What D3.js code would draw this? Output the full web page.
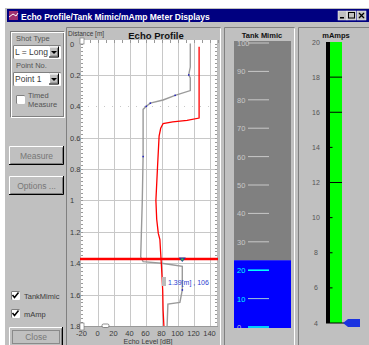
<!DOCTYPE html>
<html><head><meta charset="utf-8">
<script src="https://cdn.jsdelivr.net/npm/d3@7"></script>
<style>body{margin:0;background:#fff}svg{display:block}text{font-family:"Liberation Sans",Arial,sans-serif}</style>
</head><body><svg id="c" width="369" height="345"></svg>
<script>
// ---- data ----
const windowTitle = "Echo Profile/Tank Mimic/mAmp Meter Displays";
const xTicks = [-20,0,20,40,60,80,100,120,140];
const yTicks = [0,0.2,0.4,0.6,0.8,1,1.2,1.4,1.6,1.8];
const yTickLabels = ["0","0.2","0.4","0.6","0.8","1","1.2","1.4","1.6","1.8"];
// echo profile (distance m, level dB)
const echoDist = [0,0.15,0.2,0.22,0.30,0.33,0.36,0.38,0.40,0.42,0.72,1.0,1.36,1.39,1.40,1.41,1.42,1.57,1.65,1.66,1.80];
const echoDb   = [116,116,114,116,116,97,82,66,61,57,57,56,54,57,80,93,106,106,103,88,87];
// TVT curve
const tvtDist = [0.02,0.475,0.49,0.50,0.51,0.54,0.59,0.79,1.0,1.12,1.21,1.25,1.34,1.42,1.57,1.70,1.80];
const tvtDb   = [127,127,112,94,82,79,77,75,73,74,76,78,79,80,81.5,82,83];
const markerDist = 1.373, markerDb = 106;
const markerLabel = "1.39[m] , 106";
// tank mimic
const tankTicks = [0,10,20,30,40,50,60,70,80,90,100];
const tankLevel = 23.5;
// mA meter
const maTicks = [4,6,8,10,12,14,16,18,20];
const maMajorLines = [12,16,18];
const maValue = 4;

// ---- drawing ----
const svg = d3.select("#c");
const gray="#c0c0c0", dark="#808080", txt="#3a3a3a";
svg.append("rect").attr("x",5).attr("y",8).attr("width",364).attr("height",337).attr("fill",gray);
// title bar
svg.append("rect").attr("x",7).attr("y",9).attr("width",362).attr("height",13).attr("fill","#000080");
svg.append("rect").attr("x",9).attr("y",11).attr("width",9).attr("height",9).attr("fill","#a03070");
svg.append("path").attr("d","M9,17 L13,14 L16,16 L18,13").attr("stroke","#fff").attr("fill","none");
svg.append("text").attr("x",21).attr("y",19.5).attr("fill","#fff").attr("font-size",8.5).attr("font-weight","bold").text(windowTitle);
[338,347,357].forEach((bx,i)=>{
  svg.append("rect").attr("x",bx).attr("y",11).attr("width",9).attr("height",9).attr("fill",gray).attr("stroke","#fff").attr("stroke-width",0.5);
  if(i===0) svg.append("rect").attr("x",bx+2).attr("y",17).attr("width",4).attr("height",1.5).attr("fill","#000");
  if(i===1) svg.append("rect").attr("x",bx+1.5).attr("y",12.5).attr("width",6).attr("height",5.5).attr("fill","none").attr("stroke","#000").attr("stroke-width",1);
  if(i===2) svg.append("path").attr("d",`M${bx+2},13 L${bx+7},18 M${bx+7},13 L${bx+2},18`).attr("stroke","#000").attr("stroke-width",1.3);
});

function sunken(x,y,w,h){
  svg.append("path").attr("d",`M${x},${y+h} V${y} H${x+w}`).attr("stroke",dark).attr("fill","none");
  svg.append("path").attr("d",`M${x+1},${y+h} H${x+w} V${y+1}`).attr("stroke","#fff").attr("fill","none");
}
function raisedBtn(x,y,w,h,label,focus){
  svg.append("rect").attr("x",x).attr("y",y).attr("width",w).attr("height",h).attr("fill",gray);
  svg.append("path").attr("d",`M${x+0.5},${y+h} V${y+0.5} H${x+w}`).attr("stroke","#fff").attr("fill","none");
  svg.append("path").attr("d",`M${x},${y+h-0.5} H${x+w-0.5} V${y}`).attr("stroke","#000").attr("fill","none");
  svg.append("path").attr("d",`M${x+1.5},${y+h-1.5} H${x+w-1.5} V${y+1.5}`).attr("stroke",dark).attr("fill","none");
  if(focus) svg.append("rect").attr("x",x+3.5).attr("y",y+3.5).attr("width",w-7).attr("height",h-7).attr("fill","none").attr("stroke","#555").attr("stroke-dasharray","1,1");
  svg.append("text").attr("x",x+w/2).attr("y",y+h/2+3).attr("text-anchor","middle").attr("font-size",8.5).attr("fill","#777").text(label);
}
function dropdown(x,y,w,h,label){
  svg.append("rect").attr("x",x).attr("y",y).attr("width",w).attr("height",h).attr("fill","#fff");
  sunken(x+0.5,y+0.5,w,h);
  svg.append("text").attr("x",x+2).attr("y",y+h-3).attr("font-size",8.5).attr("fill",txt).text(label);
  raisedBtn(x+w-11,y+1.5,10,h-2,"",false);
  svg.append("path").attr("d",`M${x+w-9},${y+6} h6 l-3,3 z`).attr("fill","#000");
}
function checkbox(x,y,checked){
  svg.append("rect").attr("x",x).attr("y",y).attr("width",8).attr("height",8).attr("fill","#fff");
  sunken(x+0.5,y+0.5,8,8);
  if(checked) svg.append("path").attr("d",`M${x+1.5},${y+4} l2,2.5 l4,-5`).attr("stroke","#000").attr("stroke-width",1.5).attr("fill","none");
}
// panels
sunken(66.5,27.5,154,318);
sunken(224.5,27.5,70,318);
sunken(298.5,27.5,71,318);
// left group box
svg.append("rect").attr("x",10.5).attr("y",31.5).attr("width",53).attr("height",85).attr("fill","none").attr("stroke",dark);
svg.append("rect").attr("x",11.5).attr("y",32.5).attr("width",53).attr("height",85).attr("fill","none").attr("stroke","#fff");
svg.append("text").attr("x",16).attr("y",41).attr("font-size",7.5).attr("fill","#555").text("Shot Type");
dropdown(13,45,47,13,"L = Long");
svg.append("text").attr("x",16).attr("y",68).attr("font-size",7.5).attr("fill","#555").text("Point No.");
dropdown(13,72,47,13,"Point 1");
checkbox(16,95,false);
svg.append("text").attr("x",28).attr("y",98).attr("font-size",7.5).attr("fill","#555").text("Timed");
svg.append("text").attr("x",28).attr("y",107).attr("font-size",7.5).attr("fill","#555").text("Measure");
raisedBtn(9,146,55,19,"Measure",false);
raisedBtn(9,176,55,19,"Options ...",false);
checkbox(11,291,true);
svg.append("text").attr("x",24).attr("y",298.5).attr("font-size",7.5).attr("fill",txt).text("TankMimic");
checkbox(11,309,true);
svg.append("text").attr("x",24).attr("y",316.5).attr("font-size",7.5).attr("fill",txt).text("mAmp");
raisedBtn(9,327,54,20,"Close",true);

// ---- echo profile ----
const x = d3.scaleLinear().domain([-20,140]).range([81.5,209.5]);
const y = d3.scaleLinear().domain([0,1.8]).range([43.5,326]);
const pL=80, pR=218, pT=40, pB=327;
svg.append("rect").attr("x",pL).attr("y",pT).attr("width",pR-pL).attr("height",pB-pT).attr("fill","#fff");
const grid = svg.append("g");
grid.selectAll("line.v").data(xTicks.filter(d=>d>-20)).join("line").attr("class","v")
  .attr("x1",d=>Math.round(x(d))+0.5).attr("x2",d=>Math.round(x(d))+0.5).attr("y1",pT).attr("y2",pB)
  .attr("stroke","#c8c8c8");
grid.selectAll("line.h").data(yTicks.filter(d=>d>0)).join("line").attr("class","h")
  .attr("x1",pL).attr("x2",pR).attr("y1",d=>Math.round(y(d))+0.5).attr("y2",d=>Math.round(y(d))+0.5)
  .attr("stroke","#c8c8c8").attr("stroke-dasharray",d=>Math.abs(d-0.4)<1e-6?"1,7":null);
// axes frames with minor ticks
const minorY = d3.range(0,1.801,0.025);
svg.append("g").selectAll("line").data(minorY).join("line")
  .attr("x1",pL).attr("x2",pL+3).attr("y1",d=>Math.round(y(d))+0.5).attr("y2",d=>Math.round(y(d))+0.5).attr("stroke","#999");
svg.append("g").selectAll("line").data(minorY).join("line")
  .attr("x1",pR-3).attr("x2",pR).attr("y1",d=>Math.round(y(d))+0.5).attr("y2",d=>Math.round(y(d))+0.5).attr("stroke","#999");
svg.append("line").attr("x1",pL+0.5).attr("x2",pL+0.5).attr("y1",pT).attr("y2",pB).attr("stroke","#bbb");
svg.append("line").attr("x1",pR-0.5).attr("x2",pR-0.5).attr("y1",pT).attr("y2",pB).attr("stroke","#bbb");
const minorX = d3.range(-20,151,10);
svg.append("g").selectAll("line").data(minorX).join("line")
  .attr("x1",d=>Math.round(x(d))+0.5).attr("x2",d=>Math.round(x(d))+0.5).attr("y1",pT).attr("y2",pT+3).attr("stroke","#999");
svg.append("line").attr("x1",pL).attr("x2",pR).attr("y1",pB-0.5).attr("y2",pB-0.5).attr("stroke","#999");
// tick labels
svg.append("g").selectAll("text").data(yTicks).join("text")
  .attr("x",70).attr("y",d=>y(d)+3).attr("font-size",7.5).attr("fill",txt).text((d,i)=>yTickLabels[i]);
svg.append("g").selectAll("text").data(xTicks).join("text")
  .attr("x",d=>x(d)).attr("y",336).attr("text-anchor","middle").attr("font-size",7.5).attr("fill",txt).text(d=>d);
svg.append("text").attr("x",148).attr("y",344).attr("text-anchor","middle").attr("font-size",7).attr("fill",txt).text("Echo Level [dB]");
svg.append("text").attr("x",68).attr("y",36).attr("font-size",6.5).attr("fill",txt).text("Distance [m]");
svg.append("text").attr("x",156).attr("y",39).attr("text-anchor","middle").attr("font-size",9.5).attr("font-weight","bold").attr("fill","#111").text("Echo Profile");
// slider handles
svg.append("rect").attr("x",80).attr("y",38).attr("width",4).attr("height",6).attr("fill","#fff").attr("stroke","#666").attr("stroke-width",0.6);
svg.append("rect").attr("x",80).attr("y",323).attr("width",4).attr("height",7).attr("fill","#fff").attr("stroke","#666").attr("stroke-width",0.6);
svg.append("rect").attr("x",102).attr("y",324).attr("width",7).attr("height",3.5).attr("rx",1.5).attr("fill","#fff").attr("stroke","#444").attr("stroke-width",0.6);

const line = d3.line().x(d=>x(d[1])).y(d=>y(d[0]));
svg.append("path").datum(echoDist.map((d,i)=>[d,echoDb[i]])).attr("d",line)
  .attr("fill","none").attr("stroke","#9a9a9a").attr("stroke-width",1.4);
// small blue sample dots on echo
const blueIdx=[2,5,7,8,10,17];
svg.append("g").selectAll("rect").data(blueIdx).join("rect")
  .attr("x",i=>x(echoDb[i])-0.7).attr("y",i=>y(echoDist[i])-0.7).attr("width",1.5).attr("height",1.5).attr("fill","#2020c0");
svg.append("path").datum(tvtDist.map((d,i)=>[d,tvtDb[i]])).attr("d",line)
  .attr("fill","none").attr("stroke","#f00").attr("stroke-width",1.3);
// marker
svg.append("line").attr("x1",pL).attr("x2",pR).attr("y1",y(markerDist)).attr("y2",y(markerDist)).attr("stroke","#f00").attr("stroke-width",2.6);
const mx=x(markerDb), my=y(markerDist);
svg.append("path").attr("d",`M${mx-3.5},${my-1.5} h7 l-3.5,4.5 z`).attr("fill","#1f3aa8");
svg.append("rect").attr("x",mx-1).attr("y",my-0.5).attr("width",2).attr("height",2).attr("fill","#3c3");
svg.append("rect").attr("x",162).attr("y",277).attr("width",4).attr("height",9).attr("fill","#bbb");
svg.append("text").attr("x",168).attr("y",285).attr("font-size",7).attr("fill","#2b3cd0").text(markerLabel);

// ---- tank mimic ----
const yT = d3.scaleLinear().domain([0,100]).range([327,43]);
svg.append("text").attr("x",262).attr("y",38).attr("text-anchor","middle").attr("font-size",7.5).attr("font-weight","bold").attr("fill","#111").text("Tank Mimic");
svg.append("rect").attr("x",234).attr("y",41).attr("width",57).attr("height",yT(tankLevel)-41).attr("fill","#808080");
svg.append("rect").attr("x",234).attr("y",yT(tankLevel)).attr("width",57).attr("height",327-yT(tankLevel)+1).attr("fill","#0000ff");
const tcol = d=> d<=tankLevel ? (d===10?"#a0c8d8":"#00ffff") : "#c8c8c8";
svg.append("g").selectAll("line").data(tankTicks).join("line")
  .attr("x1",248).attr("x2",269).attr("y1",d=>yT(d)).attr("y2",d=>yT(d)).attr("stroke",tcol).attr("stroke-width",d=>d<=tankLevel&&d!==10?1.6:1);
svg.append("g").selectAll("text").data(tankTicks).join("text")
  .attr("x",237).attr("y",d=>yT(d)+3).attr("font-size",7.5).attr("fill",d=>d<=tankLevel&&d>0?"#00ffff":"#c8c8c8").text(d=>d);

// ---- mAmps ----
const yM = d3.scaleLinear().domain([4,20]).range([323,42]);
svg.append("text").attr("x",336).attr("y",38).attr("text-anchor","middle").attr("font-size",7.5).attr("font-weight","bold").attr("fill","#111").text("mAmps");
svg.append("rect").attr("x",330).attr("y",yM(20)).attr("width",12).attr("height",yM(maValue)-yM(20)).attr("fill","#00ff00");
svg.append("rect").attr("x",326).attr("y",yM(20)).attr("width",4).attr("height",yM(4)-yM(20)).attr("fill","#000");
svg.append("g").selectAll("line").data(maTicks.filter(d=>d>4&&d<20)).join("line")
  .attr("x1",330).attr("x2",d=>maMajorLines.includes(d)?342:332.5).attr("y1",d=>yM(d)).attr("y2",d=>yM(d)).attr("stroke","#000").attr("stroke-width",1);
svg.append("line").attr("x1",326).attr("x2",345).attr("y1",yM(4)).attr("y2",yM(4)).attr("stroke","#000").attr("stroke-width",1);
svg.append("g").selectAll("text").data(maTicks).join("text")
  .attr("x",316).attr("y",d=>yM(d)+2.5).attr("text-anchor","middle").attr("font-size",7).attr("fill","#555").text(d=>d);
const py=yM(maValue);
svg.append("path").attr("d",`M343,${py} l5,-4 h12 v8 h-12 z`).attr("fill","#1a33e0");
</script></body></html>
